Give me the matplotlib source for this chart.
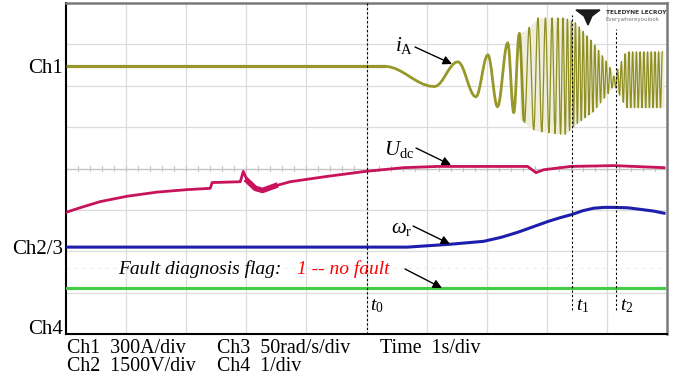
import numpy as np
import matplotlib
matplotlib.use('Agg')
import matplotlib.pyplot as plt
from matplotlib.patches import Polygon

plt.rcParams['font.family'] = ['Liberation Serif', 'DejaVu Serif']
plt.rcParams['mathtext.fontset'] = 'custom'
plt.rcParams['mathtext.rm'] = 'Liberation Serif'
plt.rcParams['mathtext.it'] = 'Liberation Serif:italic'

# ---------------- data (time in s, amplitude in screen divisions) ----------------
# Ch1: phase current iA
ia_base_t = [0.0, 5.30]
ia_base_v = [6.47, 6.47]
ia_ext_t = [5.30, 6.13, 6.52, 6.82, 7.02, 7.18, 7.35]          # extrema after t0
ia_ext_v = [6.47, 5.98, 6.58, 5.73, 6.75, 5.49, 7.04]
ia_per_t = [7.35, 7.55, 7.70, 7.85, 7.97, 8.08, 8.18, 8.27, 8.40, 9.10, 9.95]   # local period
ia_per = [0.20, 0.17, 0.15, 0.13, 0.115, 0.10, 0.09, 0.075, 0.065, 0.063, 0.061]
ia_env_t = [7.35, 7.45, 7.55, 7.63, 7.70, 7.77, 7.85, 8.00, 8.30, 8.48, 8.77, 9.03, 9.12, 9.32, 9.95]
ia_env_hi = [7.04, 7.10, 7.28, 7.33, 7.40, 7.52, 7.64, 7.64, 7.64, 7.52, 7.04, 6.51, 6.22, 6.82, 6.82]
ia_env_lo = [5.49, 5.35, 5.20, 5.11, 5.02, 4.94, 4.90, 4.87, 4.82, 5.06, 5.37, 5.83, 6.02, 5.47, 5.47]

# Ch2: DC-link voltage Udc
udc_t = [0.0, 0.23, 0.57, 1.02, 1.52, 2.02, 2.40, 2.43, 2.90, 2.95, 3.02, 3.15, 3.27, 3.48,
         3.73, 4.35, 4.98, 5.62, 6.18, 7.68, 7.82, 7.95, 8.40, 9.12, 9.95]
udc_v = [2.94, 3.05, 3.20, 3.33, 3.43, 3.49, 3.52, 3.66, 3.68, 3.93, 3.70, 3.52, 3.47, 3.58,
         3.68, 3.81, 3.93, 4.02, 4.05, 4.05, 3.90, 3.97, 4.05, 4.07, 4.02]

# Ch3: rotor speed
wr_t = [0.0, 5.68, 6.40, 6.95, 7.25, 7.52, 7.77, 8.02, 8.22, 8.42, 8.60, 8.78, 8.95, 9.12, 9.35, 9.57, 9.78, 9.95]
wr_v = [2.10, 2.10, 2.17, 2.24, 2.34, 2.46, 2.59, 2.72, 2.81, 2.89, 2.98, 3.04, 3.06, 3.06, 3.05, 3.01, 2.97, 2.92]

# Ch4: fault diagnosis flag
flag_t = [0.0, 9.95]
flag_v = [1.11, 1.11]

# event markers
mark_t = [5.0, 8.42, 9.15]
mark_lbl = [r'$t_0$', r'$t_1$', r'$t_2$']
mark_top = [8.0, 7.72, 7.36]
mark_bot = [0.0, 0.58, 0.58]

ch_pos = [6.47, 2.10, 0.17]
ch_lbl = ['Ch1', 'Ch2/3', 'Ch4']

# ---------------- build iA waveform from read extrema ----------------
ext_t = list(ia_ext_t)
ext_v = list(ia_ext_v)
t = ia_ext_t[-1]
hi = True
while True:
    t = t + np.interp(t, ia_per_t, ia_per) / 2.0
    if t > 9.95:
        break
    hi = not hi
    ext_t.append(t)
    ext_v.append(np.interp(t, ia_env_t, ia_env_hi if hi else ia_env_lo))

seg_t, seg_v = [], []
s = np.linspace(0, 1, 10)
for k in range(len(ext_t) - 1):
    ta, tb, va, vb = ext_t[k], ext_t[k + 1], ext_v[k], ext_v[k + 1]
    seg_t.extend(ta + (tb - ta) * s)
    seg_v.extend(va + (vb - va) * (1 - np.cos(np.pi * s)) / 2)
seg_t = np.array(seg_t)
seg_v = np.array(seg_v)

# ---------------- figure ----------------
W, H = 683, 381
fig = plt.figure(figsize=(W / 100, H / 100), dpi=100)
ax = fig.add_axes([66 / W, 1 - 334 / H, 601 / W, 331 / H])
ax.set_xlim(0, 10)
ax.set_ylim(0, 8)


def px(x, y):
    return ((x - 66) / 60.1, (334 - y) / 41.375)


# grid
for gx in range(1, 10):
    ax.axvline(gx, color='#dcdcdc', lw=0.9, zorder=0)
for gy in range(1, 8):
    ax.axhline(gy, color='#dcdcdc', lw=0.9, zorder=0)
ax.axhline(4, color='#c4c4c4', lw=0.9, zorder=0)
for tx in np.arange(0.2, 10, 0.2):
    ax.plot([tx, tx], [3.95, 4.05], color='#c4c4c4', lw=0.8, zorder=0)
ax.axhline(1.6, color='#ececec', lw=0.8, ls=(0, (3, 4)), zorder=0)

# traces
c_ia = '#97972a'
ax.plot(ia_base_t, ia_base_v, color=c_ia, lw=2.3, solid_capstyle='butt', zorder=3)
early = seg_t <= 7.62
ax.plot(seg_t[early], seg_v[early], color=c_ia, lw=2.0, zorder=3)
dense_env = np.array(ia_env_t) >= 7.55
ax.fill_between(np.array(ia_env_t)[dense_env], np.array(ia_env_lo)[dense_env],
                np.array(ia_env_hi)[dense_env], color='#eeeedb', lw=0, zorder=2)
ax.plot(seg_t[seg_t >= 7.55], seg_v[seg_t >= 7.55], color='#8e8e22', lw=0.9, zorder=3)

c_udc = '#c8125c'
ax.plot(udc_t, udc_v, color=c_udc, lw=2.0, zorder=3)
udc_t_a = np.array(udc_t)
band = (udc_t_a >= 3.02) & (udc_t_a <= 3.48)
ax.plot(udc_t_a[band], np.array(udc_v)[band], color=c_udc, lw=4.0, zorder=3)

ax.plot(wr_t, wr_v, color='#1e1eac', lw=2.2, zorder=3)
ax.plot(flag_t, flag_v, color='#44cc44', lw=2.2, zorder=3)

# event markers
for mt, ml, top, bot in zip(mark_t, mark_lbl, mark_top, mark_bot):
    ax.plot([mt, mt], [bot, top], color='black', lw=0.8, ls=(0, (2, 2)), zorder=4)
    ax.text(mt + 0.06, px(0, 306)[1], ml, fontsize=14, ha='left', va='center')

# annotations
ap = dict(arrowstyle='-|>', color='black', lw=1.0, mutation_scale=13, shrinkA=0, shrinkB=0)
ax.text(*px(413, 46), r'$i_{\rm A}$', fontsize=15, ha='right', va='center')
ax.annotate('', xy=px(452, 64), xytext=px(415, 47), arrowprops=ap)
ax.text(*px(414, 149), r'$U_{\rm dc}$', fontsize=15, ha='right', va='center')
ax.annotate('', xy=px(451, 165), xytext=px(416, 148), arrowprops=ap)
ax.text(*px(412, 229), r'$\omega_{\rm r}$', fontsize=15, ha='right', va='center')
ax.annotate('', xy=px(450, 244), xytext=px(413, 226), arrowprops=ap)
ax.text(*px(118, 274), 'Fault diagnosis flag: ', fontsize=14, style='italic', ha='left', va='baseline')
ax.text(*px(297, 274), '1 -- no fault', fontsize=14, style='italic', color='red', ha='left', va='baseline')
ax.annotate('', xy=px(442, 288), xytext=px(405, 269), arrowprops=ap)

# logo
bird = Polygon([px(576, 10), px(600, 10), px(592, 16), px(588, 25), px(584, 16)],
               closed=True, color='#1a1a1a', zorder=5)
ax.add_patch(bird)
ax.text(*px(606, 13), 'TELEDYNE LECROY', fontsize=4.2, family='DejaVu Sans', weight='bold',
        color='#333333', ha='left', va='center', zorder=5)
ax.text(*px(606, 20), 'Everywhereyoulook', fontsize=4.0, family='DejaVu Sans',
        color='#777777', ha='left', va='center', zorder=5)

# axes frame and channel labels
ax.set_xticks([])
ax.set_yticks(ch_pos)
ax.set_yticklabels(ch_lbl, fontsize=15)
ax.tick_params(axis='y', length=0, pad=2)
for side in ['left', 'bottom']:
    ax.spines[side].set_color('black')
    ax.spines[side].set_linewidth(1.5)
for side in ['top', 'right']:
    ax.spines[side].set_color('#7a7a7a')
    ax.spines[side].set_linewidth(1.8)

# scale text
fs = 14.4
fig.text(67 / W, 1 - 353 / H, 'Ch1  300A/div', fontsize=fs, va='baseline')
fig.text(67 / W, 1 - 371 / H, 'Ch2  1500V/div', fontsize=fs, va='baseline')
fig.text(217 / W, 1 - 353 / H, 'Ch3  50rad/s/div', fontsize=fs, va='baseline')
fig.text(217 / W, 1 - 371 / H, 'Ch4  1/div', fontsize=fs, va='baseline')
fig.text(380 / W, 1 - 353 / H, 'Time  1s/div', fontsize=fs, va='baseline')

fig.savefig('out.png', dpi=100)
